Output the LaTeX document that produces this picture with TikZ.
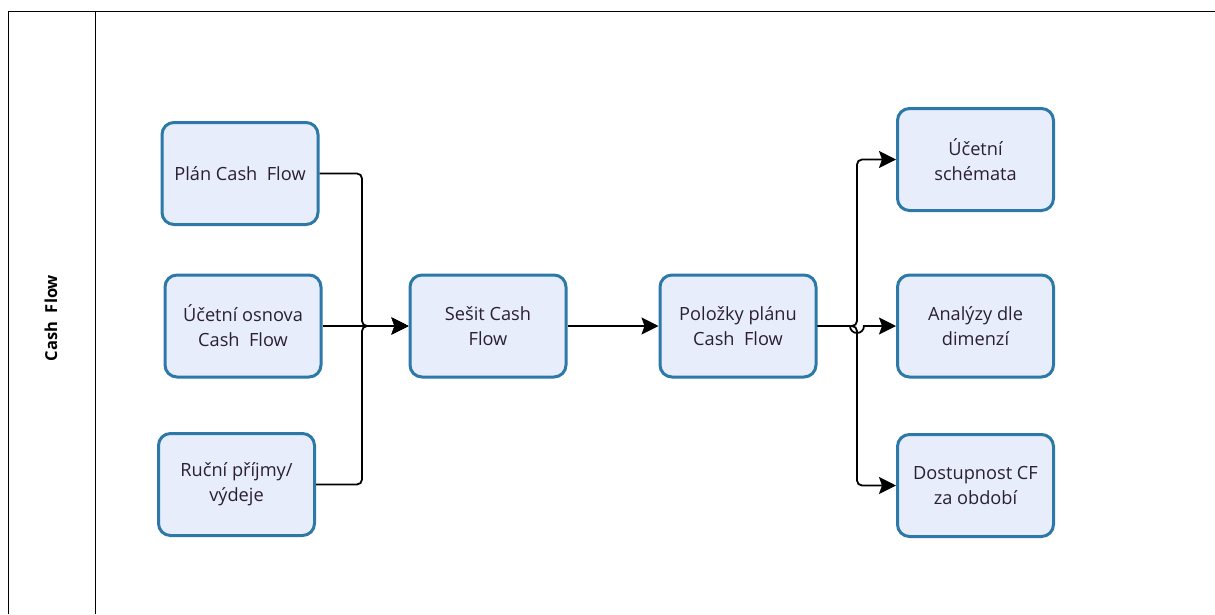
\documentclass[tikz,border=0pt]{standalone}
\usepackage{fontspec}
\setmainfont{Open Sans}
\usetikzlibrary{arrows.meta}
\definecolor{boxline}{HTML}{2C78A8}
\definecolor{boxfill}{HTML}{E8EDFC}
\definecolor{boxtext}{HTML}{2A1F35}

\begin{document}
\begin{tikzpicture}[x=1pt,y=-1pt,line width=1.8pt] %pixel coordinates

\tikzstyle{step box} = [rectangle,rounded corners=12pt,draw=boxline,fill=boxfill,line width=3pt,minimum width=156pt,minimum height=102pt,align=center,text=boxtext,font=\fontsize{18.2}{25}\selectfont];
\tikzstyle{flow}=[-{Stealth[length=17pt,width=17pt,inset=3pt]},rounded corners=5pt];

\useasboundingbox (0,0) rectangle (1215,614);

% swimlane frame
\draw (1215,11.5) -- (8.5,11.5) -- (8.5,614);
\draw (95.5,11.5) -- (95.5,614);
\node[rotate=90,font=\bfseries\fontsize{16.5}{20}\selectfont] (lane) at (51,318) {Cash~ Flow};

\node[step box] (v1) at (240,173.5) {Plán Cash~ Flow};
\node[step box] (v2) at (243,326) {Účetní osnova\\Cash~ Flow};
\node[step box] (v3) at (236.5,484.5) {Ruční příjmy/\\výdeje};
\node[step box] (v4) at (488,326) {Sešit Cash\\Flow};
\node[step box] (v5) at (738,326) {Položky plánu\\Cash~ Flow};
\node[step box] (v6) at (975.5,159.5) {Účetní\\schémata};
\node[step box] (v7) at (975.5,326) {Analýzy dle\\dimenzí};
\node[step box] (v8) at (975.5,485.5) {Dostupnost CF\\za období};

\draw[flow] (v1.east) -| (362,326) -- (v4.west);
\draw[flow] (v3.east) -| (362,326) -- (v4.west);
\draw[flow] (v2.east) -- (v4.west);
\draw[flow] (v4.east) -- (v5.west);

\draw[flow] (v5.east) -- (857,326) |- (v6.west);
\draw[flow] (v5.east) -- (857,326) |- (v8.west);
\draw[flow,rounded corners=0pt] (v5.east) -- (850,326) arc (180:0:7) -- (v7.west);
\end{tikzpicture}
\end{document}
